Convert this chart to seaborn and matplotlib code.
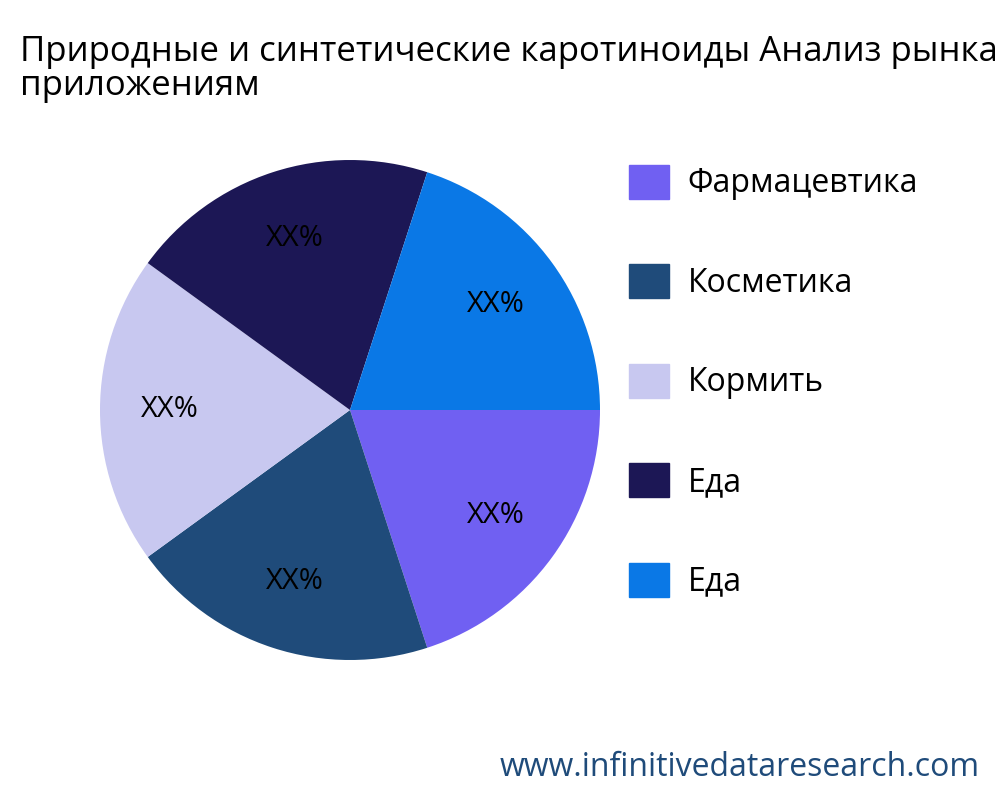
import matplotlib
matplotlib.use("Agg")
import matplotlib.pyplot as plt
import seaborn as sns
from matplotlib.patches import Patch

sns.set_theme(style="white")
plt.rcParams['font.family'] = ['Open Sans', 'DejaVu Sans']

labels = ['Фармацевтика', 'Косметика', 'Кормить', 'Еда', 'Еда']
values = [20, 20, 20, 20, 20]
colors = ['#7060F2', '#1F4B7A', '#C8C8F0', '#1C1755', '#0A78E6']

fig = plt.figure(figsize=(10, 8), dpi=100)
ax = fig.add_axes([0.1, 0.175, 0.5, 0.625])
ax.pie(values, colors=colors, startangle=0, counterclock=False,
       autopct=lambda p: 'XX%', pctdistance=0.72,
       wedgeprops={'linewidth': 0},
       textprops={'fontsize': 21, 'color': 'black'})
ax.set_xlim(-1, 1)
ax.set_ylim(-1, 1)
ax.set_aspect('equal')

fig.text(0.02, 0.914, 'Природные и синтетические каротиноиды Анализ рынка по\nприложениям',
         fontsize=25, ha='left', va='center', linespacing=1.0, color='black')

handles = [Patch(color=c) for c in colors]
fig.legend(handles, labels, loc='upper left', bbox_to_anchor=(0.6, 0.83),
           frameon=False, fontsize=23, handlelength=1.25, handleheight=1.25,
           labelspacing=2.0, handletextpad=0.6, labelcolor='black')

fig.text(0.98, 0.02, 'www.infinitivedataresearch.com', fontsize=23,
         color='#1F4B7A', ha='right', va='bottom')

fig.savefig('out.png', dpi=100)
